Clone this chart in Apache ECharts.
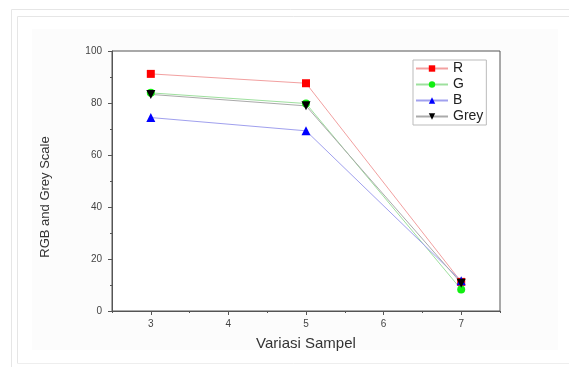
<!DOCTYPE html>
<html>
<head>
<meta charset="utf-8">
<script src="https://cdn.jsdelivr.net/npm/echarts@6/dist/echarts.min.js"></script>
<style>html,body{margin:0;padding:0;background:#fff;}#c{width:569px;height:367px;}</style>
</head>
<body>
<div id="c"></div>
<script>
var xValues = [3, 5, 7];
var xTickLabels = [3, 4, 5, 6, 7];
var yTickLabels = [0, 20, 40, 60, 80, 100];
var rValues = [91.2, 87.6, 11.2];
var gValues = [83.9, 79.8, 8.3];
var bValues = [74.4, 69.3, 11.6];
var greyValues = [83.3, 78.9, 10.7];
var seriesNames = ['R', 'G', 'B', 'Grey'];
var xTitle = 'Variasi Sampel';
var yTitle = 'RGB and Grey Scale';

function pairs(vals) { return xValues.map(function (x, i) { return [x, vals[i]]; }); }

var chart = echarts.init(document.getElementById('c'), null, { renderer: 'canvas' });
var font = 'Liberation Sans, Arial, sans-serif';
var grid = { left: 112, top: 51, width: 388, height: 260 };

function mk(name, vals, lineColor, markColor, symbol, size) {
  return {
    name: name, type: 'line', data: pairs(vals), xAxisIndex: 0, yAxisIndex: 0,
    symbol: symbol, symbolSize: size, showAllSymbol: true,
    lineStyle: { color: lineColor, width: 1 },
    itemStyle: { color: markColor },
    emphasis: { disabled: true }, animation: false
  };
}

chart.setOption({
  animation: false,
  backgroundColor: '#fff',
  graphic: [
    { type: 'rect', silent: true, z: -10, shape: { x: 32, y: 29, width: 526, height: 321 }, style: { fill: '#fcfcfc' } },
    { type: 'line', silent: true, shape: { x1: 11.5, y1: 9.5, x2: 569, y2: 9.5 }, style: { stroke: '#e6e6e6', lineWidth: 1 } },
    { type: 'line', silent: true, shape: { x1: 11.5, y1: 9.5, x2: 11.5, y2: 367 }, style: { stroke: '#e6e6e6', lineWidth: 1 } },
    { type: 'line', silent: true, shape: { x1: 17.5, y1: 16.5, x2: 569, y2: 16.5 }, style: { stroke: '#e6e6e6', lineWidth: 1 } },
    { type: 'line', silent: true, shape: { x1: 17.5, y1: 16.5, x2: 17.5, y2: 363.5 }, style: { stroke: '#e6e6e6', lineWidth: 1 } },
    { type: 'line', silent: true, shape: { x1: 17.5, y1: 363.5, x2: 569, y2: 363.5 }, style: { stroke: '#eeeeee', lineWidth: 1 } },
    { type: 'text', silent: true, x: 45, y: 197, rotation: Math.PI / 2,
      style: { text: yTitle, font: '13px ' + font, fill: '#333', align: 'center', verticalAlign: 'middle' } }
  ],
  grid: Object.assign({ show: true, borderColor: '#555', borderWidth: 1, backgroundColor: '#fff' }, grid),
  legend: {
    orient: 'vertical', left: 413, top: 60,
    data: seriesNames,
    itemWidth: 32, itemHeight: 8, itemGap: 1,
    padding: [1, 3, 1, 2],
    borderColor: '#bbb', borderWidth: 1, backgroundColor: '#fff',
    textStyle: { fontFamily: font, fontSize: 14, lineHeight: 15, color: '#222' }
  },
  xAxis: [
    {
      type: 'value', min: 2.5, max: 7.5, position: 'bottom',
      name: xTitle, nameLocation: 'middle', nameGap: 25,
      nameTextStyle: { fontFamily: font, fontSize: 15, color: '#333' },
      axisLine: { show: true, lineStyle: { color: '#555' } },
      axisTick: { show: true, length: 4, customValues: xTickLabels, lineStyle: { color: '#555' } },
      axisLabel: { customValues: xTickLabels, fontFamily: font, fontSize: 10, color: '#444', margin: 8 },
      splitLine: { show: false }
    },
    {
      type: 'value', min: 2.5, max: 7.5, interval: 0.5, position: 'bottom', gridIndex: 0,
      axisLine: { show: false },
      axisTick: { show: true, length: 2, lineStyle: { color: '#555' } },
      axisLabel: { show: false },
      splitLine: { show: false }
    }
  ],
  yAxis: {
    type: 'value', min: 0, max: 100, interval: 20,
    axisLine: { show: true, lineStyle: { color: '#555' } },
    axisTick: { show: true, length: 4, lineStyle: { color: '#555' } },
    minorTick: { show: true, splitNumber: 2, length: 2, lineStyle: { color: '#555' } },
    axisLabel: { fontFamily: font, fontSize: 10, color: '#444', margin: 10,
      formatter: function (v) { return yTickLabels.indexOf(v) >= 0 ? String(v) : ''; } },
    splitLine: { show: false }
  },
  series: [
    mk('R', rValues, '#f2a0a0', '#ff0000', 'rect', 8),
    mk('G', gValues, '#9ee09e', '#11ee11', 'circle', 8),
    mk('B', bValues, '#a0a0ee', '#0000ff', 'triangle', 9),
    mk('Grey', greyValues, '#aaaaaa', '#000000', 'path://M0,0 L10,0 L5,9 Z', 9)
  ]
});
</script>
</body>
</html>
